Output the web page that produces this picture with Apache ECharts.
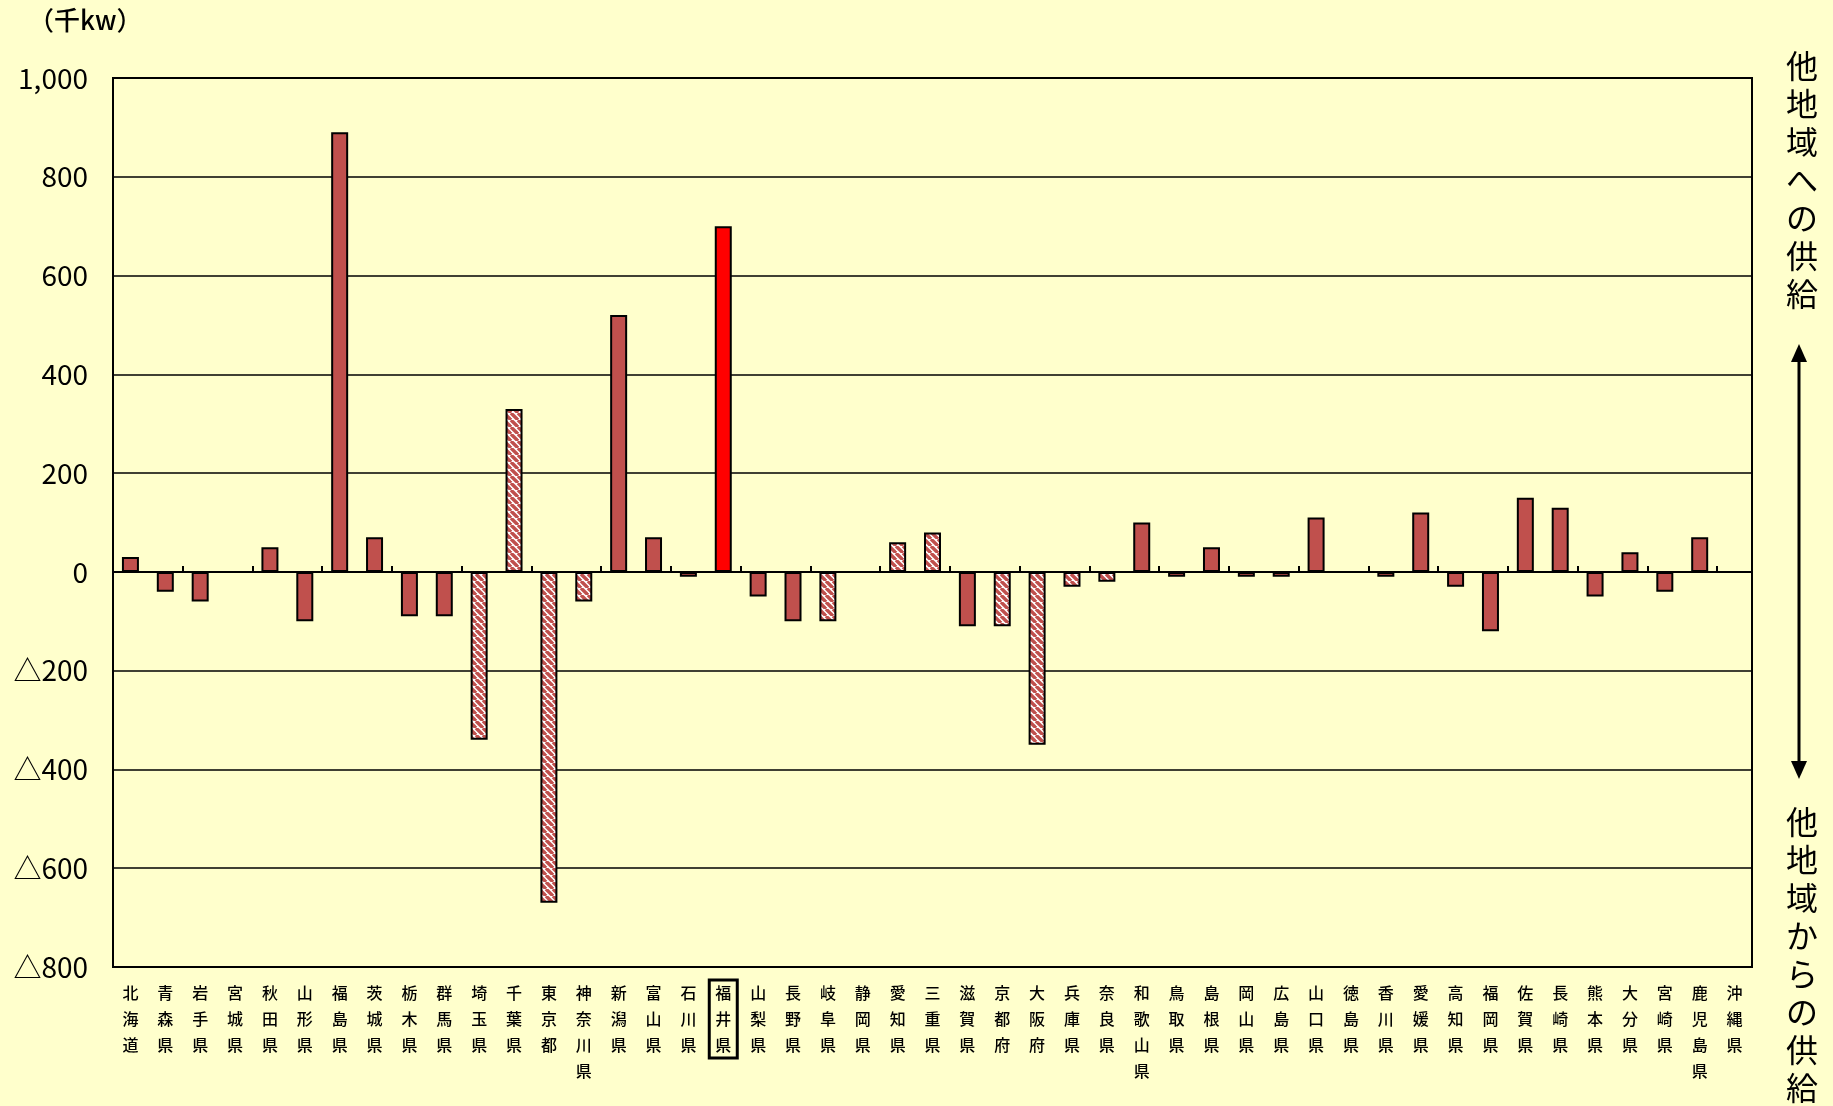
<!DOCTYPE html>
<html>
<head>
<meta charset="utf-8">
<script src="https://cdn.jsdelivr.net/npm/echarts@6/dist/echarts.min.js"></script>
<style>
  html, body { margin: 0; padding: 0; background: #FFFFCC; }
  #main { width: 1833px; height: 1106px; }
</style>
</head>
<body>
<div id="main"></div>
<script>
// 都道府県
const prefectures = [
  '北海道', '青森県', '岩手県', '宮城県', '秋田県', '山形県', '福島県', '茨城県',
  '栃木県', '群馬県', '埼玉県', '千葉県', '東京都', '神奈川県', '新潟県', '富山県',
  '石川県', '福井県', '山梨県', '長野県', '岐阜県', '静岡県', '愛知県', '三重県',
  '滋賀県', '京都府', '大阪府', '兵庫県', '奈良県', '和歌山県', '鳥取県', '島根県',
  '岡山県', '広島県', '山口県', '徳島県', '香川県', '愛媛県', '高知県', '福岡県',
  '佐賀県', '長崎県', '熊本県', '大分県', '宮崎県', '鹿児島県', '沖縄県'
]

// 他地域への供給 (+) / 他地域からの供給 (-)  単位：千kw
const supply = [
  30, -40, -60, 0, 50, -100, 890, 70,
  -90, -90, -340, 330, -670, -60, 520, 70,
  -10, 700, -50, -100, -100, 0, 60, 80,
  -110, -110, -350, -30, -20, 100, -10, 50,
  -10, -10, 110, 0, -10, 120, -30, -120,
  150, 130, -50, 40, -40, 70, 0
]

// 斜線で表示する都府県
const hatched = ['埼玉県', '千葉県', '東京都', '神奈川県', '岐阜県', '愛知県', '三重県', '京都府', '大阪府', '兵庫県', '奈良県']
const highlight = '福井県'

const yTicks = { min: -800, max: 1000, interval: 200 }

const BAR = '#C0504D'

// 斜線パターン
function stripePattern() {
  const c = document.createElement('canvas')
  c.width = 7
  c.height = 7
  const g = c.getContext('2d')
  g.fillStyle = '#ffffff'
  g.fillRect(0, 0, 7, 7)
  g.strokeStyle = BAR
  g.lineWidth = 3.4
  for (const o of [-7, 0, 7]) {
    g.beginPath()
    g.moveTo(o, 0)
    g.lineTo(o + 7, 7)
    g.stroke()
  }
  return c
}
const stripe = stripePattern()

const barData = supply.map((v, i) => {
  const name = prefectures[i]
  let color = BAR
  if (name === highlight) color = '#FF0000'
  else if (hatched.includes(name)) color = { image: stripe, repeat: 'repeat' }
  return { value: v, itemStyle: { color } }
})

const labelData = prefectures.map((p) =>
  p === highlight
    ? { value: p, textStyle: { borderColor: '#000', borderWidth: 3, padding: [0, 6, 0, 6] } }
    : p
)

const font = 'Noto Sans CJK JP'
const chart = echarts.init(document.getElementById('main'))

chart.setOption({
  backgroundColor: '#FFFFCC',
  animation: false,
  textStyle: { fontFamily: font },
  grid: {
    left: 113, right: 81, top: 78, bottom: 139,
    show: true, borderColor: '#000', borderWidth: 2, backgroundColor: 'transparent'
  },
  xAxis: [
    {
      type: 'category',
      data: prefectures,
      position: 'bottom',
      axisLine: { onZero: true, lineStyle: { color: '#000', width: 2 } },
      axisTick: { show: true, inside: true, length: 6, lineStyle: { color: '#000', width: 2 } },
      axisLabel: { show: false },
      splitLine: { show: false }
    },
    {
      type: 'category',
      data: labelData,
      position: 'bottom',
      axisLine: { show: false, onZero: false },
      axisTick: { show: false },
      axisLabel: {
        show: true,
        interval: 0,
        margin: 13,
        color: '#000',
        fontFamily: font,
        fontSize: 16,
        fontWeight: 500,
        lineHeight: 26,
        verticalAlign: 'top',
        formatter: (v) => v.split('').join('\n')
      }
    }
  ],
  yAxis: {
    type: 'value',
    min: yTicks.min,
    max: yTicks.max,
    interval: yTicks.interval,
    axisLine: { show: true, lineStyle: { color: '#000', width: 2 } },
    axisTick: { show: false },
    splitLine: { lineStyle: { color: '#000', width: 1.5 } },
    axisLabel: {
      margin: 25,
      color: '#000',
      fontFamily: font,
      fontSize: 28,
      formatter: (v) => (v < 0 ? '△' + Math.abs(v) : v >= 1000 ? '1,000' : String(v))
    }
  },
  series: [
    {
      type: 'bar',
      xAxisIndex: 0,
      barWidth: 17,
      data: barData,
      itemStyle: { borderColor: '#000', borderWidth: 2 }
    }
  ],
  graphic: [
    {
      type: 'text', left: 28, top: 7,
      style: { text: '（千kw）', font: '500 26px "Noto Sans CJK JP"', fill: '#000' }
    },
    {
      type: 'text', x: 1802, y: 47,
      style: {
        text: '他\n地\n域\nへ\nの\n供\n給', font: '32px "Noto Sans CJK JP"',
        lineHeight: 38, fill: '#000', align: 'center'
      }
    },
    {
      type: 'text', x: 1802, y: 803,
      style: {
        text: '他\n地\n域\nか\nら\nの\n供\n給', font: '32px "Noto Sans CJK JP"',
        lineHeight: 38, fill: '#000', align: 'center'
      }
    },
    {
      type: 'line',
      shape: { x1: 1799, y1: 358, x2: 1799, y2: 765 },
      style: { stroke: '#000', lineWidth: 3 }
    },
    {
      type: 'polygon',
      shape: { points: [[1799, 344], [1791, 362], [1807, 362]] },
      style: { fill: '#000' }
    },
    {
      type: 'polygon',
      shape: { points: [[1799, 779], [1791, 761], [1807, 761]] },
      style: { fill: '#000' }
    }
  ]
})
</script>
</body>
</html>
